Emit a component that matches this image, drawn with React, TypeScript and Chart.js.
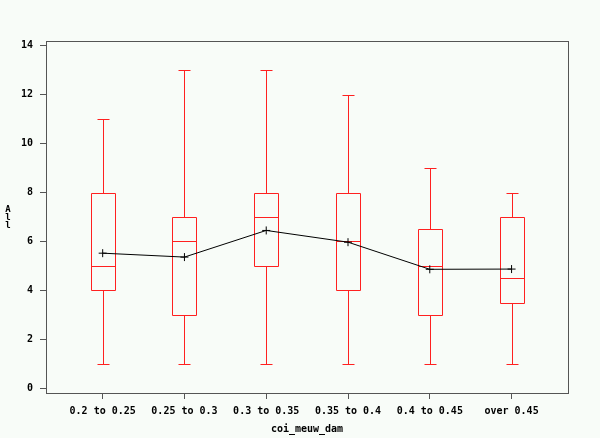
import React, { useEffect, useRef } from "react";
import { Chart, registerables } from "chart.js";

Chart.register(...registerables);

const categories = ["0.2 to 0.25", "0.25 to 0.3", "0.3 to 0.35", "0.35 to 0.4", "0.4 to 0.45", "over 0.45"];
const whiskerLow = [1, 1, 1, 1, 1, 1];
const q1 = [4, 3, 5, 4, 3, 3.5];
const medians = [5, 6, 7, 6, 5, 4.5];
const q3 = [8, 7, 8, 8, 6.5, 7];
const whiskerHigh = [11, 13, 13, 12, 9, 8];
const means = [5.52, 5.36, 6.45, 5.97, 4.86, 4.87];
const yTicks = [0, 2, 4, 6, 8, 10, 12, 14];
const yTitleLetters = ["A", "l", "l"];

const FONT = "DejaVu Sans Mono";
const BG = "rgb(248,252,248)";
const FRAME = "#555555";

const boxPlugin = {
  id: "boxes",
  beforeDraw(chart: any) {
    const { ctx } = chart;
    ctx.save();
    ctx.fillStyle = BG;
    ctx.fillRect(0, 0, chart.width, chart.height);
    ctx.restore();
  },
  beforeDatasetsDraw(chart: any) {
    const { ctx, scales } = chart;
    const xs = scales.x;
    const ys = scales.y;
    const px = (v: number) => Math.round(v) + 0.5;
    ctx.save();
    ctx.strokeStyle = "#ff2020";
    ctx.lineWidth = 1;
    categories.forEach((_, i) => {
      const cx = px(xs.getPixelForValue(i));
      const bw = 12;
      const cw = 6;
      const yLo = px(ys.getPixelForValue(whiskerLow[i]));
      const yQ1 = px(ys.getPixelForValue(q1[i]));
      const yMed = px(ys.getPixelForValue(medians[i]));
      const yQ3 = px(ys.getPixelForValue(q3[i]));
      const yHi = px(ys.getPixelForValue(whiskerHigh[i]));
      ctx.beginPath();
      ctx.rect(cx - bw, yQ3, bw * 2, yQ1 - yQ3);
      ctx.moveTo(cx - bw, yMed);
      ctx.lineTo(cx + bw, yMed);
      ctx.moveTo(cx, yQ1);
      ctx.lineTo(cx, yLo);
      ctx.moveTo(cx, yQ3);
      ctx.lineTo(cx, yHi);
      ctx.moveTo(cx - cw, yLo);
      ctx.lineTo(cx + cw, yLo);
      ctx.moveTo(cx - cw, yHi);
      ctx.lineTo(cx + cw, yHi);
      ctx.stroke();
    });
    ctx.restore();
  },
  afterDraw(chart: any) {
    const { ctx, chartArea } = chart;
    ctx.save();
    ctx.strokeStyle = FRAME;
    ctx.lineWidth = 1;
    ctx.strokeRect(
      Math.round(chartArea.left) + 0.5,
      Math.round(chartArea.top) + 0.5,
      Math.round(chartArea.right - chartArea.left),
      Math.round(chartArea.bottom - chartArea.top)
    );
    ctx.fillStyle = "#000";
    ctx.font = `bold 9px "${FONT}"`;
    ctx.textAlign = "center";
    ctx.textBaseline = "middle";
    yTitleLetters.forEach((ch, k) => ctx.fillText(ch, 8, 210 + k * 8));
    ctx.restore();
  },
};

export default function App() {
  const ref = useRef<HTMLCanvasElement>(null);
  useEffect(() => {
    if (!ref.current) return;
    const chart = new Chart(ref.current, {
      type: "scatter",
      data: {
        datasets: [
          {
            data: means.map((m, i) => ({ x: i, y: m })),
            showLine: true,
            borderColor: "#000",
            borderWidth: 1,
            pointStyle: "cross",
            pointRadius: 4,
            pointBorderColor: "#000",
            pointBorderWidth: 1,
            pointHoverRadius: 4,
          },
        ],
      },
      options: {
        animation: false,
        responsive: false,
        events: [],
        layout: { padding: { top: 41, right: 32, left: 0, bottom: 0 } },
        plugins: { legend: { display: false }, tooltip: { enabled: false } },
        scales: {
          x: {
            type: "linear",
            min: -0.693,
            max: 5.69,
            afterBuildTicks: (s: any) => {
              s.ticks = categories.map((_, i) => ({ value: i }));
            },
            afterFit: (s: any) => {
              s.height = 45;
            },
            grid: { drawOnChartArea: false, drawTicks: true, tickLength: 6, color: FRAME },
            border: { color: FRAME },
            ticks: {
              autoSkip: false,
              maxRotation: 0,
              padding: 6,
              color: "#000",
              font: { family: FONT, size: 10, weight: "bold" },
              callback: (v: any) => categories[v] ?? "",
            },
            title: {
              display: true,
              text: "coi_meuw_dam",
              color: "#000",
              font: { family: FONT, size: 10, weight: "bold" },
              padding: { top: 3, bottom: 3 },
            },
          },
          y: {
            type: "linear",
            min: -0.2,
            max: 14.2,
            afterBuildTicks: (s: any) => {
              s.ticks = yTicks.map((v) => ({ value: v }));
            },
            afterFit: (s: any) => {
              s.width = 46;
            },
            grid: { drawOnChartArea: false, drawTicks: true, tickLength: 6, color: FRAME },
            border: { color: FRAME },
            ticks: {
              padding: 7,
              color: "#000",
              font: { family: FONT, size: 10, weight: "bold" },
            },
          },
        },
      },
      plugins: [boxPlugin],
    });
    return () => chart.destroy();
  }, []);
  return (
    <div style={{ position: "fixed", left: 0, top: 0, width: 600, height: 438, background: BG }}>
      <canvas ref={ref} width={600} height={438} style={{ display: "block" }} />
    </div>
  );
}
